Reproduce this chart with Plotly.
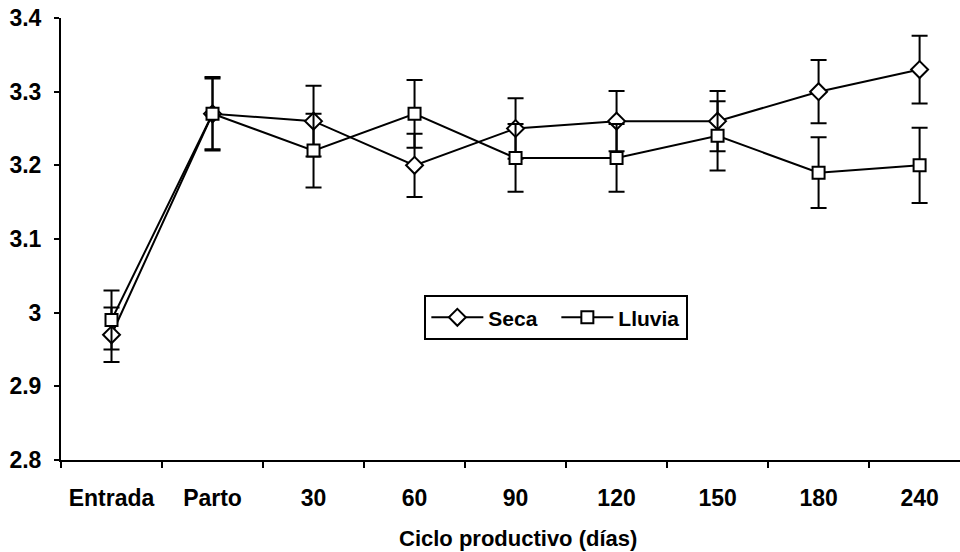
import plotly.graph_objects as go

categories = ["Entrada", "Parto", "30", "60", "90", "120", "150", "180", "240"]
seca = [2.97, 3.27, 3.26, 3.20, 3.25, 3.26, 3.26, 3.30, 3.33]
seca_err = [0.037, 0.048, 0.048, 0.043, 0.041, 0.041, 0.041, 0.043, 0.046]
lluvia = [2.99, 3.27, 3.22, 3.27, 3.21, 3.21, 3.24, 3.19, 3.20]
lluvia_err = [0.04, 0.05, 0.05, 0.046, 0.046, 0.046, 0.047, 0.048, 0.051]
y_ticks = [2.8, 2.9, 3.0, 3.1, 3.2, 3.3, 3.4]
y_ticktext = ["2.8", "2.9", "3", "3.1", "3.2", "3.3", "3.4"]

font = dict(family="Liberation Sans, Arial, sans-serif", color="black")

fig = go.Figure()
fig.add_trace(go.Scatter(
    x=categories, y=seca, name="<b>Seca</b>", mode="lines+markers",
    line=dict(color="black", width=2),
    marker=dict(symbol="diamond", size=13, color="white", line=dict(color="black", width=2)),
    error_y=dict(type="data", array=seca_err, color="black", thickness=2, width=8),
))
fig.add_trace(go.Scatter(
    x=categories, y=lluvia, name="<b>Lluvia</b>", mode="lines+markers",
    line=dict(color="black", width=2),
    marker=dict(symbol="square", size=12, color="white", line=dict(color="black", width=2)),
    error_y=dict(type="data", array=lluvia_err, color="black", thickness=2, width=8),
))

fig.update_layout(
    width=960, height=552,
    margin=dict(l=61, r=0, t=18, b=92),
    plot_bgcolor="white", paper_bgcolor="white",
    font=dict(size=22, **font),
    showlegend=True,
    legend=dict(
        orientation="h", x=0.551, y=0.322, xanchor="center", yanchor="middle",
        bordercolor="black", borderwidth=2, bgcolor="white",
        font=dict(size=21, **font), tracegroupgap=0,
        itemwidth=52, entrywidth=63,
    ),
    xaxis=dict(
        type="category", range=[-0.5, 8.4],
        showline=True, linecolor="black", linewidth=2,
        ticks="outside", tickson="boundaries", ticklen=6, tickwidth=1.5, tickcolor="black",
        showgrid=False, zeroline=False,
        tickfont=dict(size=23, **font), ticklabelstandoff=16,
        tickvals=categories, ticktext=[f"<b>{c}</b>" for c in categories],
    ),
    yaxis=dict(
        range=[2.8, 3.4], tickvals=y_ticks, ticktext=[f"<b>{t}</b>" for t in y_ticktext],
        showline=True, linecolor="black", linewidth=2,
        ticks="outside", ticklen=5, tickwidth=1.5, tickcolor="black",
        showgrid=False, zeroline=False,
        tickfont=dict(size=23, **font), ticklabelstandoff=8,
    ),
    annotations=[dict(
        text="<b>Ciclo productivo (días)</b>", xref="paper", yref="paper",
        x=0.508, y=-0.178, xanchor="center", yanchor="middle", showarrow=False,
        font=dict(size=22, **font),
    )],
)

fig.write_html("out.html")
